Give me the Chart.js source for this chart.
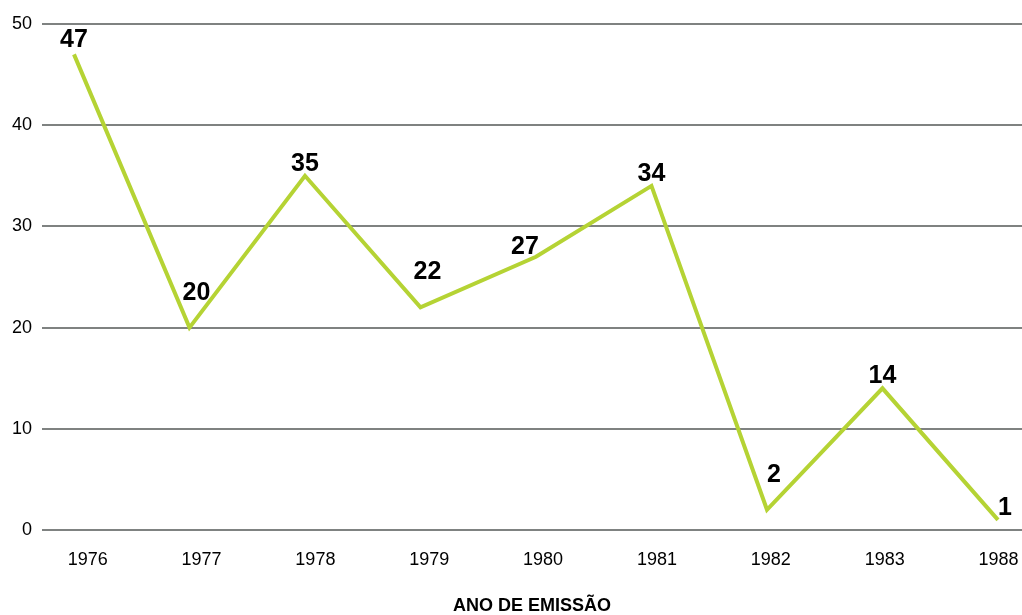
<!DOCTYPE html>
<html>
<head>
<meta charset="utf-8">
<script src="https://cdn.jsdelivr.net/npm/chart.js@4/dist/chart.umd.min.js"></script>
<style>
    html, body { margin: 0; padding: 0; background: #fff; overflow: hidden; }
    #wrap { width: 1022px; height: 615px; }
    canvas { display: block; }
</style>
</head>
<body>
<div id="wrap"><canvas id="chart" width="1022" height="615"></canvas></div>
<script>
const years = ['1976', '1977', '1978', '1979', '1980', '1981', '1982', '1983', '1988'];
const counts = [47, 20, 35, 22, 27, 34, 2, 14, 1];
const yTicks = [0, 10, 20, 30, 40, 50];

const FONT = '"Liberation Sans", Arial, Helvetica, sans-serif';

// number over each point; valleys get the label inside the V,
// points on a rising stretch get it nudged left, the last one nudged right
const valueLabels = {
    id: 'valueLabels',
    afterDatasetsDraw(chart) {
        const ctx = chart.ctx;
        const meta = chart.getDatasetMeta(0);
        ctx.save();
        ctx.font = 'bold 25px ' + FONT;
        ctx.fillStyle = '#000';
        ctx.textAlign = 'center';
        ctx.textBaseline = 'alphabetic';
        meta.data.forEach((pt, i) => {
            const prev = counts[i - 1], next = counts[i + 1];
            let dx = 0, dy = 14;
            if (prev !== undefined && next !== undefined) {
                if (counts[i] < prev && counts[i] < next) {
                    dx = 7; dy = 37;
                } else if (counts[i] > prev && counts[i] < next) {
                    dx = -11; dy = 12;
                }
            } else if (next === undefined) {
                dx = 7;
            } else {
                dy = 16;
            }
            // baseline sits ~9px under the centre of the digits
            ctx.fillText(String(counts[i]), pt.x + dx, pt.y - dy + 9);
        });
        ctx.restore();
    }
};

new Chart(document.getElementById('chart'), {
    type: 'line',
    data: {
        datasets: [{
            data: counts.map((v, i) => ({ x: i, y: v })),
            xAxisID: 'x',
            yAxisID: 'y',
            borderColor: '#b5d334',
            borderWidth: 4,
            borderJoinStyle: 'miter',
            tension: 0,
            pointRadius: 0,
            fill: false,
            clip: false
        }]
    },
    options: {
        responsive: false,
        animation: false,
        layout: { padding: { left: 0, top: 24, right: 0, bottom: 0 } },
        plugins: {
            legend: { display: false },
            tooltip: { enabled: false }
        },
        scales: {
            // carries the points
            x: {
                type: 'linear',
                display: false,
                min: -0.277,
                max: 8.208
            },
            // carries the year labels and the title
            xLabels: {
                type: 'linear',
                position: 'bottom',
                min: -0.401,
                max: 8.206,
                grid: { display: false, drawTicks: false },
                border: { display: false },
                afterBuildTicks: axis => {
                    axis.ticks = years.map((y, i) => ({ value: i }));
                },
                afterFit: axis => {
                    axis.height = 85;
                    axis.paddingLeft = 0;
                    axis.paddingRight = 0;
                },
                ticks: {
                    padding: 19,
                    maxRotation: 0,
                    autoSkip: false,
                    color: '#000',
                    font: { family: FONT, size: 18 },
                    callback: v => years[v]
                },
                title: {
                    display: true,
                    text: 'ANO DE EMISSÃO',
                    color: '#000',
                    font: { family: FONT, size: 18, weight: 'bold' },
                    padding: { top: 0, bottom: -2 }
                }
            },
            y: {
                min: 0,
                max: 50,
                afterBuildTicks: axis => {
                    axis.ticks = yTicks.map(v => ({ value: v }));
                },
                afterFit: axis => {
                    axis.width = 42;
                    axis.paddingTop = 0;
                    axis.paddingBottom = 0;
                },
                grid: {
                    color: '#7f8281',
                    lineWidth: 2,
                    drawTicks: false
                },
                border: { display: false },
                ticks: {
                    padding: 10,
                    color: '#000',
                    font: { family: FONT, size: 18 }
                }
            }
        }
    },
    plugins: [valueLabels]
});
</script>
</body>
</html>
